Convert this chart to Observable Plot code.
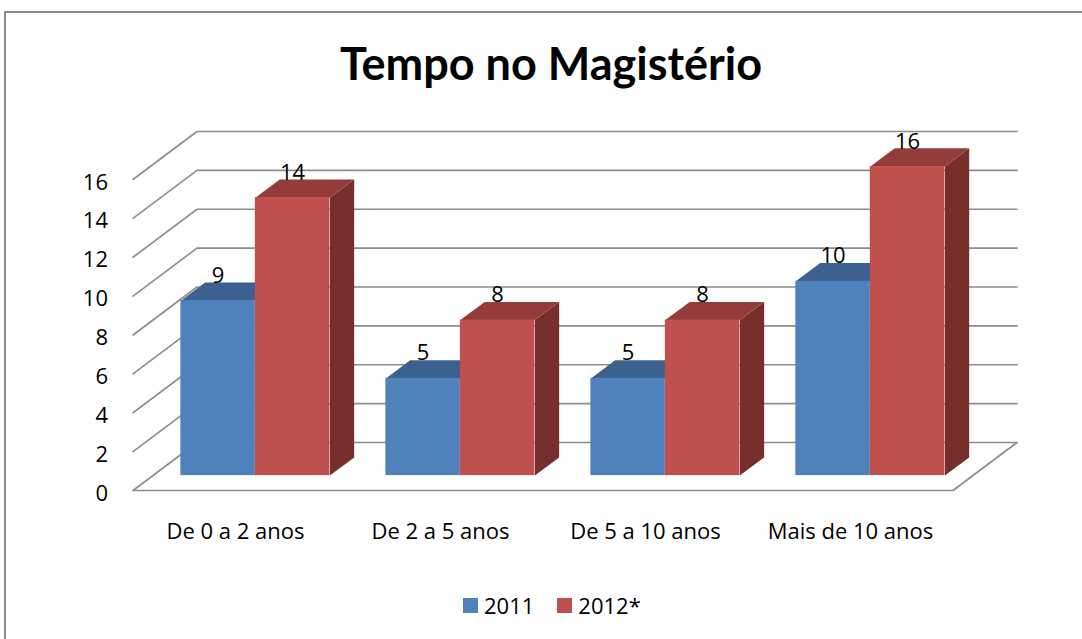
<!DOCTYPE html>
<html>
<head>
<meta charset="utf-8">
<script src="https://cdn.jsdelivr.net/npm/d3@7"></script>
<script src="https://cdn.jsdelivr.net/npm/@observablehq/plot@0.6"></script>
<style>
  html, body { margin: 0; padding: 0; background: #fff; overflow: hidden; }
  #wrap { position: relative; width: 1082px; height: 639px; overflow: hidden; font-family: "Open Sans", Lato, sans-serif; }
  #frame { position: absolute; left: 4px; top: 11px; width: 1200px; height: 800px; border-left: 2px solid #8a8a8a; border-top: 2px solid #8a8a8a; }
  #title { position: absolute; left: 20px; width: 1062px; top: 36px; text-align: center; font-family: Lato, "Open Sans", sans-serif; font-size: 45px; font-weight: bold; color: #000; line-height: 54px; }
  #chart { position: absolute; left: 0; top: 0; }
  #legend { position: absolute; top: 590px; left: 463px; font-size: 22px; color: #000; display: flex; align-items: center; line-height: 30px; }
  #legend .sw { display: inline-block; width: 15px; height: 15px; margin-right: 6px; }
  #legend .item { display: flex; align-items: center; margin-right: 23px; }
</style>
</head>
<body>
<div id="wrap">
  <div id="frame"></div>
  <div id="chart"></div>
  <div id="title">Tempo no Magistério</div>
  <div id="legend"></div>
</div>
<script>
// ---- data ----
const categories = ["De 0 a 2 anos", "De 2 a 5 anos", "De 5 a 10 anos", "Mais de 10 anos"];
const series = ["2011", "2012*"];
const values2011 = [9, 5, 5, 10];
const values2012 = [14.3, 8, 8, 15.9];
const yTicks = [0, 2, 4, 6, 8, 10, 12, 14, 16];

// ---- colours ----
const front = {"2011": "#4f81bd", "2012*": "#c0504d"};
const top_ = {"2011": "#3c618f", "2012*": "#943c3a"};
const side = {"2011": "#2f4c70", "2012*": "#772f2d"};

// ---- 3D projection constants (in scale units) ----
const pxPerCat = 205, pxPerVal = 311 / 16;
const DX = 64 / pxPerCat;      // full depth shift along x
const DY = 48 / pxPerVal;      // full depth shift along y
const T0 = 0.31, T1 = 0.69;    // bar depth range
const BW = 74.5 / pxPerCat;    // bar width
const P = (x, v, t) => ({x: x + t * DX, y: v + t * DY});

// bars
const bars = [];
categories.forEach((c, i) => {
  const cx = i + 0.5;
  bars.push({cat: c, s: "2011", v: values2011[i], xl: cx - BW, xr: cx});
  bars.push({cat: c, s: "2012*", v: values2012[i], xl: cx, xr: cx + BW});
});

const poly = (kind) => {
  const out = [];
  bars.forEach((b, k) => {
    let pts;
    if (kind === "top") pts = [P(b.xl, b.v, T0), P(b.xr, b.v, T0), P(b.xr, b.v, T1), P(b.xl, b.v, T1)];
    else pts = [P(b.xr, 0, T0), P(b.xr, b.v, T0), P(b.xr, b.v, T1), P(b.xr, 0, T1)];
    pts.forEach(p => out.push({...p, id: k, s: b.s}));
  });
  return out;
};

// grid lines (left wall + back wall), floor
const grid = [];
yTicks.forEach((v, k) => {
  [P(0, v, 0), P(0, v, 1), P(4, v, 1)].forEach(p => grid.push({...p, id: "g" + k}));
});
[P(0, 0, 0), P(4, 0, 0), P(4, 0, 1)].forEach(p => grid.push({...p, id: "floor"}));

const fmt = d3.format(".0f");

const chart = Plot.plot({
  width: 1082,
  height: 639,
  marginLeft: 132.5,
  marginRight: 1082 - 952.5,
  marginTop: 179,
  marginBottom: 149,
  style: {fontFamily: "'Open Sans', Lato, sans-serif", background: "transparent", overflow: "visible"},
  x: {domain: [0, 4], axis: null},
  y: {domain: [0, 16], axis: null},
  marks: [
    Plot.line(grid, {x: "x", y: "y", z: "id", stroke: "#8c8c8c", strokeWidth: 1.6}),
    Plot.line(poly("side"), {x: "x", y: "y", z: "id", fill: d => side[d.s], stroke: "none", curve: "linear-closed"}),
    Plot.line(poly("top"), {x: "x", y: "y", z: "id", fill: d => top_[d.s], stroke: "none", curve: "linear-closed"}),
    Plot.rect(bars, {
      x1: d => d.xl + T0 * DX, x2: d => d.xr + T0 * DX,
      y1: T0 * DY, y2: d => d.v + T0 * DY,
      fill: d => front[d.s]
    }),
    Plot.text(bars, {
      x: d => (d.xl + d.xr) / 2 + T0 * DX, y: d => d.v + T0 * DY,
      text: d => fmt(d.v), dy: -25, fontSize: 22, fill: "#000", lineAnchor: "middle"
    }),
    Plot.axisY(yTicks, {tickSize: 0, tickPadding: 25, fontSize: 22, fill: "#000", dy: 3, label: null}),
    Plot.axisX(categories.map((c, i) => i + 0.5), {
      tickSize: 0, tickPadding: 33, fontSize: 22, fill: "#000", label: null,
      tickFormat: (d) => categories[Math.floor(d)]
    })
  ]
});
document.getElementById("chart").appendChild(chart);

// legend
const lg = document.getElementById("legend");
series.forEach(s => {
  const it = document.createElement("div");
  it.className = "item";
  const sw = document.createElement("span");
  sw.className = "sw";
  sw.style.background = front[s];
  const tx = document.createElement("span");
  tx.textContent = s;
  it.appendChild(sw); it.appendChild(tx);
  lg.appendChild(it);
});
</script>
</body>
</html>
